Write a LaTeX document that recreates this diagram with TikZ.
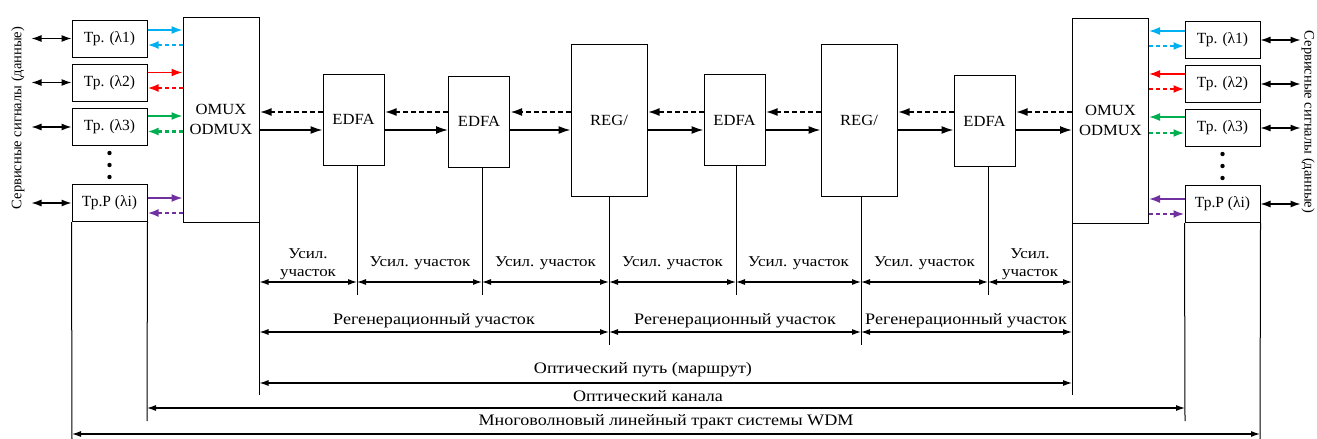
\documentclass[tikz,border=0pt]{standalone}
\usepackage{fontspec}
\setmainfont{Liberation Serif}
\newfontfamily\cyrwide[FakeStretch=1.13]{Liberation Serif}
\newfontfamily\latwide[FakeStretch=1.07]{Liberation Serif}
\usetikzlibrary{arrows.meta}
\definecolor{chA}{HTML}{00B0F0}
\definecolor{chB}{HTML}{FF0000}
\definecolor{chC}{HTML}{00B050}
\definecolor{chD}{HTML}{7030A0}
\begin{document}
\begin{tikzpicture}[x=1pt,y=-1pt,
  font=\rmfamily\fontsize{15.5}{20}\selectfont,
  blk/.style={draw,line width=1pt,inner sep=0pt,align=center},
  trx/.style={blk,minimum width=75pt,minimum height=37pt},
  unit/.style={blk,font=\latwide\fontsize{15.5}{20}\selectfont},
  edfa/.style={unit,minimum width=61pt,minimum height=91pt},
  reg/.style={unit,minimum width=76pt,minimum height=152pt},
  mux/.style={unit,minimum width=76pt,minimum height=205pt},
  fwd/.style={line width=1.6pt,-{Latex[length=12pt,width=8pt]}},
  bwd/.style={line width=2.2pt,dash pattern=on 5pt off 3pt,-{Latex[length=12pt,width=8pt]}},
  cfwd/.style={line width=1.6pt,-{Latex[length=11pt,width=8pt]}},
  cbwd/.style={line width=2.2pt,dash pattern=on 4pt off 3pt,-{Latex[length=11pt,width=8pt]}},
  svc/.style={line width=1.2pt,{Latex[length=10pt,width=7pt]}-{Latex[length=10pt,width=7pt]}},
  dim/.style={line width=1.1pt,{Latex[length=9pt,width=6pt]}-{Latex[length=9pt,width=6pt]}},
  ext/.style={line width=1pt},
  lbl/.style={inner sep=0pt,align=center,font=\cyrwide\fontsize{16}{18}\selectfont},
  amp/.style={lbl,font=\cyrwide\fontsize{15}{18}\selectfont},
  side/.style={inner sep=0pt,font=\rmfamily\fontsize{14.5}{16}\selectfont}
]
\useasboundingbox (0,0) rectangle (1317,439);

% transponders, west end
\node[trx] (tl1) at (109.5,38.5) {Тр. (λ1)};
\node[trx] (tl2) at (109.5,82.5) {Тр. (λ2)};
\node[trx] (tl3) at (109.5,127) {Тр. (λ3)};
\node[trx] (tlp) at (109.5,203) {Тр.Р (λi)};
% transponders, east end
\node[trx] (tr1) at (1222.5,40) {Тр. (λ1)};
\node[trx] (tr2) at (1222.5,84) {Тр. (λ2)};
\node[trx] (tr3) at (1222.5,128) {Тр. (λ3)};
\node[trx] (trp) at (1222.5,204) {Тр.Р (λi)};

% multiplexers
\node[mux] (om1) at (221,119.5) {OMUX\\ODMUX};
\node[mux] (om2) at (1110.5,120.5) {OMUX\\ODMUX};

% line equipment
\node[edfa] (e1) at (353.5,119.5) {EDFA};
\node[edfa] (e2) at (479,121.5) {EDFA};
\node[reg]  (r1) at (609,120) {REG/};
\node[edfa] (e3) at (734.5,120) {EDFA};
\node[reg]  (r2) at (859,120) {REG/};
\node[edfa] (e4) at (984.5,121) {EDFA};

% forward (solid) and backward (dashed) fibre paths
\foreach \a/\b in {om1/e1,e1/e2,e2/r1,r1/e3,e3/r2,r2/e4,e4/om2}{
  \draw[fwd] (\a.east |- 0,130) -- (\b.west |- 0,130);
  \draw[bwd] (\b.west |- 0,112) -- (\a.east |- 0,112);
}

% wavelength channels, west end
\foreach \t/\c/\ys/\yd in {tl1/chA/30/45,tl2/chB/72.5/88,tl3/chC/116/131.5,tlp/chD/198/213}{
  \draw[cfwd,\c] (\t.east |- 0,\ys) -- (om1.west |- 0,\ys);
  \draw[cbwd,\c] (om1.west |- 0,\yd) -- (\t.east |- 0,\yd);
}
% wavelength channels, east end
\foreach \t/\c/\ys/\yd in {tr1/chA/31/46,tr2/chB/74/89,tr3/chC/117/133,trp/chD/199/214}{
  \draw[cfwd,\c] (\t.west |- 0,\ys) -- (om2.east |- 0,\ys);
  \draw[cbwd,\c] (om2.east |- 0,\yd) -- (\t.west |- 0,\yd);
}

% client (service) interfaces
\foreach \t in {tl1,tl2,tl3,tlp}{
  \coordinate (s-\t) at ([xshift=-40pt]\t.west);
  \draw[svc] (s-\t) -- (\t.west);
}
\foreach \t in {tr1,tr2,tr3,trp}{
  \coordinate (s-\t) at ([xshift=40pt]\t.east);
  \draw[svc] (\t.east) -- (s-\t);
}

% omitted channels
\foreach \y in {153,165,177}{
  \fill (109.5,\y) circle (2.2pt);
  \fill (1222.5,\y+1) circle (2.2pt);
}

% side captions
\node[side,rotate=90] (capL) at (18,118) {Сервисные сигналы (данные)};
\node[side,rotate=-90] (capR) at (1308,122) {Сервисные сигналы (данные)};

% extension lines
\coordinate (x0) at (259.5,395);
\coordinate (x1) at (357,295);
\coordinate (x2) at (482,295);
\coordinate (x3) at (609,345);
\coordinate (x4) at (736,295);
\coordinate (x5) at (861,345);
\coordinate (x6) at (988,295);
\coordinate (x7) at (1072,395);
\coordinate (xa) at (147,421);
\coordinate (xb) at (1185,421);
\coordinate (xc) at (72,439);
\coordinate (xd) at (1260,439);
\draw[ext] (om1.south east) -- (x0);
\draw[ext] (om2.south west) -- (x7);
\draw[ext] (e1.south -| x1) -- (x1);
\draw[ext] (e2.south -| x2) -- (x2);
\draw[ext] (r1.south -| x3) -- (x3);
\draw[ext] (e3.south -| x4) -- (x4);
\draw[ext] (r2.south -| x5) -- (x5);
\draw[ext] (e4.south -| x6) -- (x6);
\draw[ext] (tlp.south east) -- (xa);
\draw[ext] (trp.south west) -- (xb);
\draw[ext] (tlp.south west) -- (xc);
\draw[ext] (trp.south east) -- (xd);

% amplifier sections
\foreach \a/\b in {x0/x1,x1/x2,x2/x3,x3/x4,x4/x5,x5/x6,x6/x7}{
  \draw[dim] (\a |- 0,282) -- (\b |- 0,282);
}
\node[amp] (u0) at (308,264) {Усил.\\участок};
\node[amp] (u1) at (420,263) {Усил. участок};
\node[amp] (u2) at (545.5,263) {Усил. участок};
\node[amp] (u3) at (672.5,263) {Усил. участок};
\node[amp] (u4) at (798.5,263) {Усил. участок};
\node[amp] (u5) at (924.5,263) {Усил. участок};
\node[amp] (u6) at (1030,264) {Усил.\\участок};

% regeneration sections
\foreach \a/\b in {x0/x3,x3/x5,x5/x7}{
  \draw[dim] (\a |- 0,332) -- (\b |- 0,332);
}
\node[lbl] (g1) at (434,321) {Регенерационный участок};
\node[lbl] (g2) at (735,321) {Регенерационный участок};
\node[lbl] (g3) at (966,321) {Регенерационный участок};

% end-to-end spans
\draw[dim] (x0 |- 0,383) -- (x7 |- 0,383);
\node[lbl] (p1) at (643,370) {Оптический путь (маршрут)};
\draw[dim] (xa |- 0,408) -- (xb |- 0,408);
\node[lbl] (p2) at (648,396) {Оптический канала};
\draw[dim] (xc |- 0,434) -- (xd |- 0,434);
\node[lbl] (p3) at (666,422) {Многоволновый линейный тракт системы WDM};
\end{tikzpicture}
\end{document}
